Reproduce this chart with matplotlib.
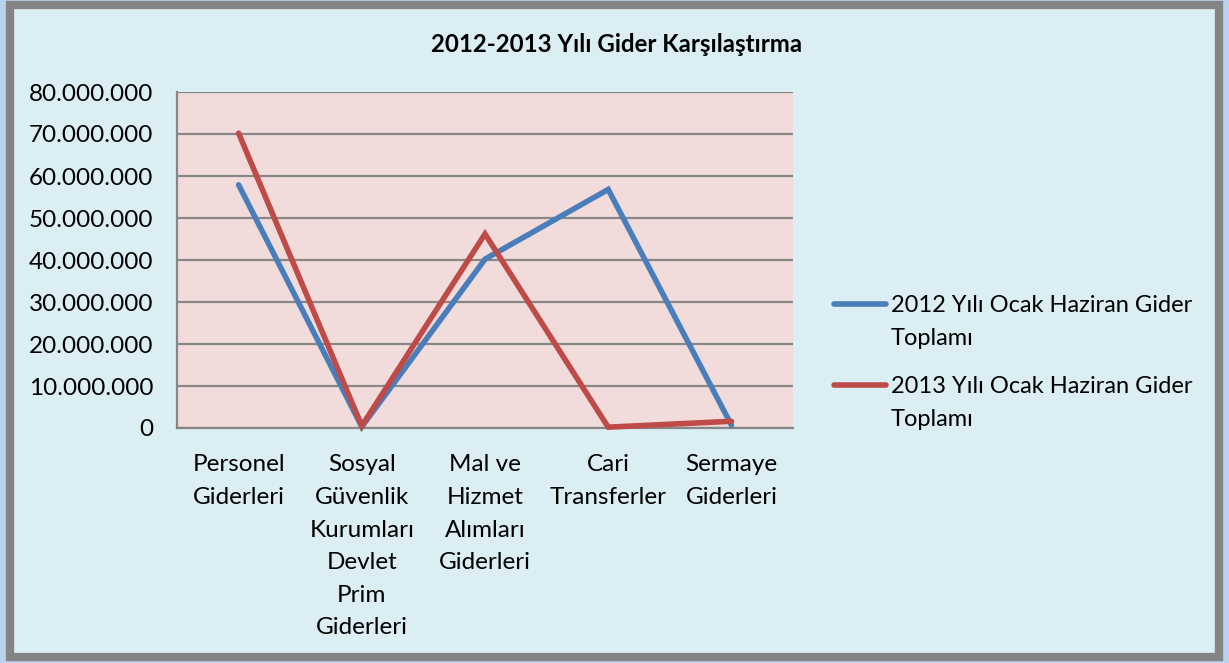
import matplotlib
matplotlib.use("Agg")
import matplotlib.pyplot as plt
from matplotlib.patches import Rectangle
from matplotlib.ticker import FuncFormatter
from matplotlib.lines import Line2D

categories = ["Personel\nGiderleri", "Sosyal\nGüvenlik\nKurumları\nDevlet\nPrim\nGiderleri",
              "Mal ve\nHizmet\nAlımları\nGiderleri", "Cari\nTransferler", "Sermaye\nGiderleri"]
series_2012 = [57.9e6, 0.3e6, 40.2e6, 56.8e6, 0.7e6]
series_2013 = [70.2e6, 0.5e6, 46.2e6, 0.2e6, 1.6e6]
labels = ["2012 Yılı Ocak Haziran Gider\nToplamı", "2013 Yılı Ocak Haziran Gider\nToplamı"]
colors = ["#4A7EBB", "#BE4B48"]
title = "2012-2013 Yılı Gider Karşılaştırma"

plt.rcParams['font.family'] = ['Lato', 'DejaVu Sans']

W, H = 1229, 663
fig = plt.figure(figsize=(W / 100, H / 100), dpi=100)
fig.patch.set_facecolor("#B9D3EE")
bg = fig.add_axes([0, 0, 1, 1], zorder=-5)
bg.set_xlim(0, W)
bg.set_ylim(H, 0)
bg.axis("off")
bg.add_patch(Rectangle((10, 5), 1209, 652, facecolor="#DBEEF3", edgecolor="#848484", linewidth=6))

ax = fig.add_axes([177 / W, 1 - 428 / H, 616 / W, 336 / H], zorder=1)
ax.set_facecolor("#F2DCDB")
x = list(range(len(categories)))
for ys, c in zip([series_2012, series_2013], colors):
    ax.plot(x, ys, color=c, linewidth=4, solid_capstyle="round", solid_joinstyle="miter",
            zorder=3, clip_on=False)
ax.set_xlim(-0.5, len(categories) - 0.5)
ax.set_ylim(0, 80e6)
ax.set_yticks([i * 10e6 for i in range(9)])
ax.yaxis.set_major_formatter(FuncFormatter(lambda v, p: f"{int(v):,}".replace(",", ".")))
ax.grid(axis="y", color="#878787", linewidth=1.6)
ax.set_axisbelow(True)
ax.set_xticks(x)
ax.set_xticklabels(categories, fontsize=17.5, linespacing=1.68, va="top")
ax.tick_params(axis="y", labelsize=17.5, length=0, pad=17)
ax.tick_params(axis="x", length=0, pad=19)
for s in ["top", "right"]:
    ax.spines[s].set_visible(False)
for s in ["left", "bottom"]:
    ax.spines[s].set_color("#878787")
    ax.spines[s].set_linewidth(1.6)

bg.text(617, 44, title, ha="center", va="center", fontsize=17.3, fontweight="bold")

# legend
for i, (lab, c) in enumerate(zip(labels, colors)):
    y0 = 304 + i * 81
    bg.add_line(Line2D([834, 886], [y0, y0], color=c, linewidth=4, solid_capstyle="round"))
    bg.text(891, y0 - 9, lab, ha="left", va="top", fontsize=17, linespacing=1.68)

fig.savefig("out.png", dpi=100, facecolor=fig.get_facecolor())
